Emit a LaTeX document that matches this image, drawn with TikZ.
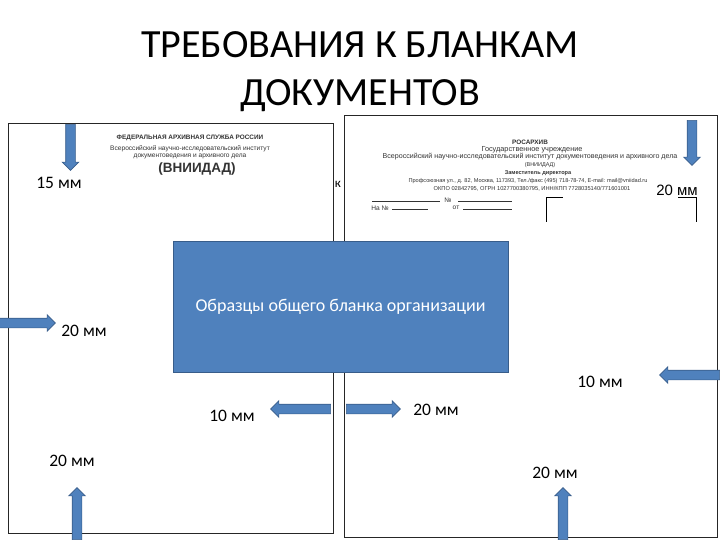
\documentclass[tikz,border=0pt]{standalone}
\usepackage{fontspec}
\setmainfont{Carlito}
\newfontfamily\arialfont{Liberation Sans}
\usetikzlibrary{shapes.arrows}
\definecolor{blankblue}{RGB}{79,129,189}
\definecolor{blankborder}{RGB}{56,93,138}
\tikzset{
  blankpage/.style={draw=black!85, line width=0.9pt, fill=white},
  blankarrow/.style={single arrow, draw=blankborder, fill=blankblue, line width=0.6pt,
    inner sep=4.5pt, minimum width=16pt, single arrow head extend=3.5pt},
  mmlabel/.style={font=\fontsize{17.5}{20}\selectfont, inner sep=0pt},
  headtext/.style={font=\arialfont\fontsize{6.6}{8}\selectfont, text=black!80, inner sep=0pt},
  headbold/.style={headtext, font=\arialfont\bfseries\fontsize{6.4}{8}\selectfont},
  headrule/.style={black!80, line width=0.5pt},
}

\begin{document}
\begin{tikzpicture}[x=1pt,y=-1pt]
\useasboundingbox (0,0) rectangle (720,540);

\node[font=\fontsize{40}{46}\selectfont] (title1) at (360,45) {ТРЕБОВАНИЯ К БЛАНКАМ};
\node[font=\fontsize{40}{46}\selectfont] (title2) at (360,96) {ДОКУМЕНТОВ};

\draw[blankpage] (8,123) rectangle (333,533);
\node[headbold] (lhA) at (190,138) {ФЕДЕРАЛЬНАЯ АРХИВНАЯ СЛУЖБА РОССИИ};
\node[headtext] (lhB) at (190,149) {Всероссийский научно-исследовательский институт};
\node[headtext] (lhC) at (190,156) {документоведения и архивного дела};
\node[headbold, font=\arialfont\bfseries\fontsize{13.5}{15}\selectfont] (lhD) at (197,169) {(ВНИИДАД)};
\node[font=\fontsize{13}{15}\selectfont, inner sep=0pt] (cut) at (338,184) {к};

\draw[blankpage] (344,115) rectangle (717,537);
\node[headbold] (rhA) at (530,142) {РОСАРХИВ};
\node[headtext, font=\arialfont\fontsize{7.3}{8}\selectfont] (rhB) at (532,150) {Государственное учреждение};
\node[headtext, font=\arialfont\fontsize{7.1}{8}\selectfont] (rhC) at (530,157) {Всероссийский научно-исследовательский институт документоведения и архивного дела};
\node[headtext, font=\arialfont\fontsize{5.5}{7}\selectfont] (rhD) at (540,165) {(ВНИИДАД)};
\node[headbold, font=\arialfont\bfseries\fontsize{5.6}{7}\selectfont] (rhE) at (538,173) {Заместитель директора};
\node[headtext, font=\arialfont\fontsize{5.6}{7}\selectfont] (rhF) at (528,181) {Профсоюзная ул., д. 82, Москва, 117393, Тел./факс (495) 718-78-74, E-mail: mail@vniidad.ru};
\node[headtext, font=\arialfont\fontsize{5.7}{7}\selectfont] (rhG) at (532,189) {ОКПО 02842795, ОГРН 1027700380795, ИНН/КПП 7728035140/771601001};
\draw[headrule] (372,201) -- (440,201) (458,201) -- (512,201);
\node[headtext] (rhNo) at (448,200) {№};
\node[headtext] (rhNa) at (380,208) {На №};
\draw[headrule] (392,209) -- (428,209) (463,209) -- (512,209);
\node[headtext] (rhOt) at (456,208) {от};
\draw[line width=0.7pt] (546,222) |- (563,197);
\draw[line width=0.7pt] (678,197) -| (696,222);

\node[draw=blankborder, fill=blankblue, line width=1pt, minimum width=335pt, minimum height=131pt,
  text=white, font=\fontsize{18}{20}\selectfont] (sample) at (340.5,306.5) {Образцы общего бланка организации};

\node[blankarrow, minimum height=46pt, shape border rotate=270] (arTL) at (70.5,145) {};
\node[blankarrow, minimum height=45pt, shape border rotate=270] (arTR) at (692,140.5) {};
\node[blankarrow, minimum height=56pt] (arML) at (25,323) {};
\node[blankarrow, minimum height=60pt, shape border rotate=180] (arCL) at (303,409) {};
\node[blankarrow, minimum height=54pt] (arCR) at (371,409) {};
\node[blankarrow, minimum height=60pt, shape border rotate=180] (arMR) at (692,375) {};
\node[blankarrow, minimum height=52pt, shape border rotate=90] (arBL) at (77,516) {};
\node[blankarrow, minimum height=52pt, shape border rotate=90] (arBR) at (563,516) {};

\node[mmlabel] (mTL) at (59,183) {15 мм};
\node[mmlabel, font=\arialfont\fontsize{15}{17}\selectfont] (mTR) at (677,190) {20 мм};
\node[mmlabel] (mML) at (84,331) {20 мм};
\node[mmlabel] (mCL) at (232,416) {10 мм};
\node[mmlabel] (mCR) at (436,410) {20 мм};
\node[mmlabel] (mMR) at (600,382) {10 мм};
\node[mmlabel] (mBL) at (72,461) {20 мм};
\node[mmlabel] (mBR) at (555,473) {20 мм};
\end{tikzpicture}
\end{document}
